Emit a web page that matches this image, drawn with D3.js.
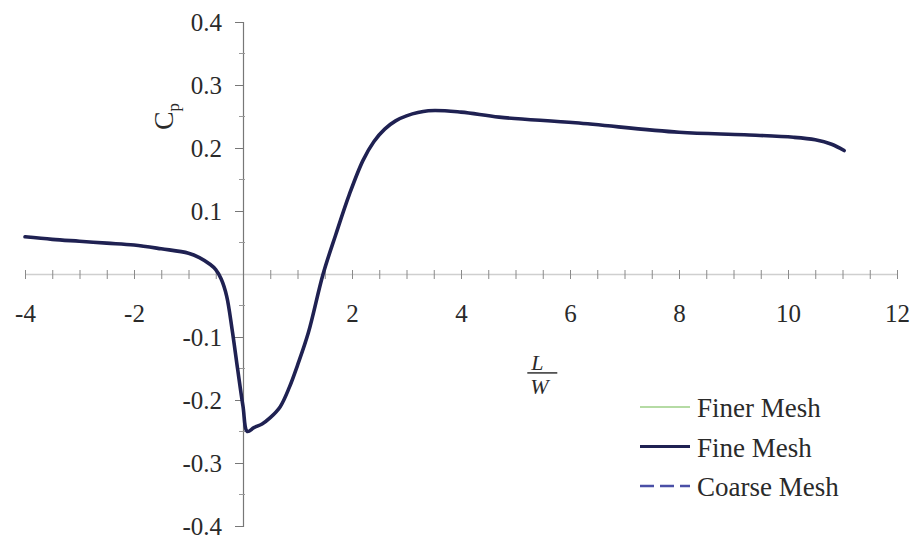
<!DOCTYPE html>
<html>
<head>
<meta charset="utf-8">
<script src="https://cdn.jsdelivr.net/npm/d3@7"></script>
<style>
  body { margin: 0; background: #fff; }
  svg text { font-family: 'Liberation Serif', 'Times New Roman', Times, serif; fill: #2a2a2a; }
</style>
</head>
<body>
<div id="chart"></div>
<script>
const serif = "'Liberation Serif', 'Times New Roman', Times, serif"

// L/W positions
const lw = [-4, -3.5, -3, -2.5, -2, -1.5, -1, -0.8, -0.6, -0.5, -0.4, -0.3, -0.2, -0.1, 0, 0.08,
  0.2, 0.35, 0.5, 0.68, 0.85, 1.0, 1.2, 1.47, 1.7, 1.95, 2.2, 2.4, 2.6, 2.8, 3.0, 3.4, 4.0, 4.7,
  6.1, 8.0, 9.2, 10.1, 10.5, 10.8, 11.03]

// the three meshes overlap everywhere, so they read the same
const finerMesh = [0.059, 0.055, 0.052, 0.049, 0.046, 0.04, 0.033, 0.026, 0.015, 0.007, -0.008,
  -0.035, -0.088, -0.15, -0.21, -0.25, -0.244, -0.238, -0.228, -0.211, -0.18, -0.145, -0.093, 0,
  0.062, 0.126, 0.18, 0.21, 0.23, 0.243, 0.251, 0.259, 0.257, 0.249, 0.24, 0.225, 0.221, 0.217,
  0.213, 0.206, 0.196]
const fineMesh = [0.059, 0.055, 0.052, 0.049, 0.046, 0.04, 0.033, 0.026, 0.015, 0.007, -0.008,
  -0.035, -0.088, -0.15, -0.21, -0.25, -0.244, -0.238, -0.228, -0.211, -0.18, -0.145, -0.093, 0,
  0.062, 0.126, 0.18, 0.21, 0.23, 0.243, 0.251, 0.259, 0.257, 0.249, 0.24, 0.225, 0.221, 0.217,
  0.213, 0.206, 0.196]
const coarseMesh = [0.059, 0.055, 0.052, 0.049, 0.046, 0.04, 0.033, 0.026, 0.015, 0.007, -0.008,
  -0.035, -0.088, -0.15, -0.21, -0.25, -0.244, -0.238, -0.228, -0.211, -0.18, -0.145, -0.093, 0,
  0.062, 0.126, 0.18, 0.21, 0.23, 0.243, 0.251, 0.259, 0.257, 0.249, 0.24, 0.225, 0.221, 0.217,
  0.213, 0.206, 0.196]

const xTicks = [-4, -2, 2, 4, 6, 8, 10, 12]
const yTicks = [0.4, 0.3, 0.2, 0.1, -0.1, -0.2, -0.3, -0.4]
const seriesNames = ['Finer Mesh', 'Fine Mesh', 'Coarse Mesh']

const margin = { top: 22, left: 25, right: 17, bottom: 13 }
const width = 914 - margin.left - margin.right
const height = 539 - margin.top - margin.bottom

const svg = d3
  .select('#chart')
  .append('svg')
  .attr('width', width + margin.left + margin.right)
  .attr('height', height + margin.top + margin.bottom)
  .append('g')
  .attr('transform', 'translate(' + margin.left + ',' + margin.top + ')')

const xPositionScale = d3.scaleLinear().domain([-4, 12]).range([0, width])
const yPositionScale = d3.scaleLinear().domain([-0.4, 0.4]).range([height, 0])

const x0 = xPositionScale(0)
const y0 = yPositionScale(0)

// x axis through y = 0
const xAxis = d3
  .axisBottom(xPositionScale)
  .tickValues(d3.range(-4, 12.01, 0.5))
  .tickSize(0)
  .tickFormat(d => (xTicks.includes(d) ? d : ''))
const xg = svg
  .append('g')
  .attr('class', 'axis x-axis')
  .attr('transform', 'translate(0,' + y0 + ')')
  .call(xAxis)
xg.attr('font-family', serif)
xg.select('.domain').attr('stroke', '#cfcfcf').attr('stroke-width', 1.5)
xg.selectAll('.tick line').attr('y1', -4).attr('y2', 5).attr('stroke', '#8a8a8a')
xg.selectAll('.tick text')
  .attr('y', 48)
  .attr('dy', 0)
  .attr('font-size', 25)
  .attr('font-family', serif)
  .attr('fill', '#2a2a2a')
  .text(d => (xTicks.includes(d) ? String(d) : ''))

// y axis through x = 0
const yAxis = d3
  .axisLeft(yPositionScale)
  .tickValues(yTicks)
  .tickSize(8)
  .tickPadding(13)
  .tickFormat(d => d.toFixed(1))
const yg = svg
  .append('g')
  .attr('class', 'axis y-axis')
  .attr('transform', 'translate(' + x0 + ',0)')
  .call(yAxis)
yg.attr('font-family', serif)
yg.select('.domain').attr('stroke', '#777').attr('stroke-width', 1.2)
yg.selectAll('.tick line').attr('stroke', '#777')
yg.selectAll('.tick text').attr('font-size', 25).attr('font-family', serif).attr('fill', '#2a2a2a')

// minor y ticks
svg
  .append('g')
  .selectAll('line')
  .data(d3.range(-0.35, 0.4, 0.1))
  .enter()
  .append('line')
  .attr('x1', x0 - 4)
  .attr('x2', x0 + 2)
  .attr('y1', d => yPositionScale(d))
  .attr('y2', d => yPositionScale(d))
  .attr('stroke', '#999')

// axis titles
svg
  .append('text')
  .attr('transform', 'translate(' + (x0 - 70) + ',' + yPositionScale(0.25) + ') rotate(-90)')
  .attr('text-anchor', 'middle')
  .attr('font-size', 28)
  .attr('font-family', serif)
  .html('C<tspan font-size="17" dy="6">p</tspan>')

const lx = xPositionScale(5.4)
svg
  .append('text')
  .text('L')
  .attr('x', lx)
  .attr('y', yPositionScale(-0.152))
  .attr('text-anchor', 'middle')
  .attr('font-size', 22)
  .attr('font-family', serif)
  .attr('font-style', 'italic')
svg
  .append('line')
  .attr('x1', lx - 10)
  .attr('x2', lx + 20)
  .attr('y1', yPositionScale(-0.157))
  .attr('y2', yPositionScale(-0.157))
  .attr('stroke', '#333')
  .attr('stroke-width', 1.5)
svg
  .append('text')
  .text('W')
  .attr('x', lx + 2)
  .attr('y', yPositionScale(-0.19))
  .attr('text-anchor', 'middle')
  .attr('font-size', 22)
  .attr('font-family', serif)
  .attr('font-style', 'italic')

// curves
const series = [
  { name: seriesNames[2], values: coarseMesh, color: '#4a4fa6', width: 2, dash: '10,6' },
  { name: seriesNames[0], values: finerMesh, color: '#9ccf86', width: 1.5, dash: null },
  { name: seriesNames[1], values: fineMesh, color: '#1f2152', width: 3.6, dash: null }
]

const line = d3
  .line()
  .x(d => xPositionScale(d[0]))
  .y(d => yPositionScale(d[1]))
  .curve(d3.curveCatmullRom.alpha(0.5))

svg
  .selectAll('.curve')
  .data(series)
  .enter()
  .append('path')
  .attr('class', 'curve')
  .attr('d', d => line(d.values.map((v, i) => [lw[i], v])))
  .attr('fill', 'none')
  .attr('stroke', d => d.color)
  .attr('stroke-width', d => d.width)
  .attr('stroke-dasharray', d => d.dash)
  .attr('stroke-linejoin', 'round')
  .attr('stroke-linecap', 'round')

// legend
const legendStyle = [
  { color: '#9ccf86', width: 1.5, dash: null },
  { color: '#1f2152', width: 3, dash: null },
  { color: '#4a4fa6', width: 2.5, dash: '14,6' }
]
const legend = svg
  .append('g')
  .attr('transform', 'translate(' + (640 - margin.left) + ',' + (407 - margin.top) + ')')

seriesNames.forEach((name, i) => {
  const row = legend.append('g').attr('transform', 'translate(0,' + i * 39.5 + ')')
  row
    .append('line')
    .attr('x1', 0)
    .attr('x2', 50)
    .attr('stroke', legendStyle[i].color)
    .attr('stroke-width', legendStyle[i].width)
    .attr('stroke-dasharray', legendStyle[i].dash)
  row
    .append('text')
    .text(name)
    .attr('x', 57)
    .attr('y', 10)
    .attr('font-size', 27)
    .attr('font-family', serif)
})
</script>
</body>
</html>
